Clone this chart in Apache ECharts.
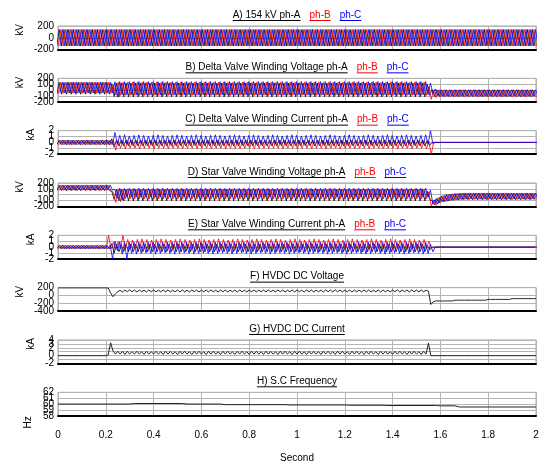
<!DOCTYPE html>
<html><head><meta charset="utf-8">
<script src="https://cdn.jsdelivr.net/npm/echarts/dist/echarts.min.js"></script>
<style>html,body{margin:0;padding:0;background:#fff}#c{width:544px;height:467px}</style>
</head><body><div id="c"></div>
<script>
// ===== DATA =====
// Waveforms A–E: one value per half-cycle peak (alternating positive / negative peak).
// The first value of each array is the peak just before t = 0; after it, each row = 0.2 s.
const HALF_CYCLE = 0.01;                                  // s
const PHASE_OFFSET = [0.005, 0.005 + 0.02/3, 0.005 + 0.04/3]; // ph-A, ph-B, ph-C first peak after t=0 (s)
const SAMPLE_DT = 0.01;                                   // s, for F and G

// A) 154 kV (same amplitude for the three phases)
const a_kv = [-140,
140,-140,140,-140,140,-140,140,-140,140,-140,140,-140,140,-140,140,-140,140,-140,140,-140,
140,-140,140,-140,140,-140,140,-140,140,-140,140,-140,140,-140,140,-140,140,-140,140,-140,
140,-140,140,-140,140,-140,140,-140,140,-140,140,-140,140,-140,140,-140,140,-140,140,-140,
140,-140,140,-140,140,-140,140,-140,140,-140,140,-140,140,-140,140,-140,140,-140,140,-140,
140,-140,140,-140,140,-140,140,-140,140,-140,140,-140,140,-140,140,-140,140,-140,140,-140,
140,-140,140,-140,140,-140,140,-140,140,-140,140,-140,140,-140,140,-140,140,-140,140,-140,
140,-140,140,-140,140,-140,140,-140,140,-140,140,-140,140,-140,140,-140,140,-140,140,-140,
140,-140,140,-140,140,-140,140,-140,140,-140,140,-140,140,-140,140,-140,140,-140,140,-140,
140,-140,140,-140,140,-140,140,-140,140,-140,140,-140,140,-140,140,-140,140,-140,140,-140,
140,-140,140,-140,140,-140,140,-140,140,-140,140,-140,140,-140,140,-140,140,-140,140,-140
];

// B) Delta valve winding voltage (kV)
const b_phA = [-70,
130,-70,130,-70,130,-70,130,-70,130,-70,130,-70,130,-70,130,-70,130,-70,130,-70,
130,-70,110,-110,120,-115,120,-115,120,-115,120,-115,120,-115,120,-115,120,-115,120,-115,
120,-115,120,-115,120,-115,120,-115,120,-115,120,-115,120,-115,120,-115,120,-115,120,-115,
120,-115,120,-115,120,-115,120,-115,120,-115,120,-115,120,-115,120,-115,120,-115,120,-115,
120,-115,120,-115,120,-115,120,-115,120,-115,120,-115,120,-115,120,-115,120,-115,120,-115,
120,-115,120,-115,120,-115,120,-115,120,-115,120,-115,120,-115,120,-115,120,-115,120,-115,
120,-115,120,-115,120,-115,120,-115,120,-115,120,-115,120,-115,120,-115,120,-115,120,-115,
120,-115,120,-115,120,-115,120,-115,120,-115,120,-115,120,-115,100,-90,10,-110,5,-110,
5,-110,5,-110,5,-110,5,-110,5,-110,5,-110,5,-110,5,-110,5,-110,5,-110,
5,-110,5,-110,5,-110,5,-110,5,-110,5,-110,5,-110,5,-110,5,-110,5,-110
];
const b_phB = [-55,
135,-55,135,-55,135,-55,135,-55,135,-55,135,-55,135,-55,135,-55,135,-55,135,-55,
135,-55,90,-80,135,-90,135,-90,135,-90,135,-90,135,-90,135,-90,135,-90,135,-90,
135,-90,135,-90,135,-90,135,-90,135,-90,135,-90,135,-90,135,-90,135,-90,135,-90,
135,-90,135,-90,135,-90,135,-90,135,-90,135,-90,135,-90,135,-90,135,-90,135,-90,
135,-90,135,-90,135,-90,135,-90,135,-90,135,-90,135,-90,135,-90,135,-90,135,-90,
135,-90,135,-90,135,-90,135,-90,135,-90,135,-90,135,-90,135,-90,135,-90,135,-90,
135,-90,135,-90,135,-90,135,-90,135,-90,135,-90,135,-90,135,-90,135,-90,135,-90,
135,-90,135,-90,135,-90,135,-90,135,-90,135,-90,135,-90,60,-160,0,-130,0,-115,
0,-115,0,-115,0,-115,0,-115,0,-115,0,-115,0,-115,0,-115,0,-115,0,-115,
0,-115,0,-115,0,-115,0,-115,0,-115,0,-115,0,-115,0,-115,0,-115,0,-115
];
const b_phC = [-50,
135,-50,135,-50,135,-50,135,-50,135,-50,135,-50,135,-50,135,-50,135,-50,135,-50,
135,-50,140,-120,145,-80,145,-80,145,-80,145,-80,145,-80,145,-80,145,-80,145,-80,
145,-80,145,-80,145,-80,145,-80,145,-80,145,-80,145,-80,145,-80,145,-80,145,-80,
145,-80,145,-80,145,-80,145,-80,145,-80,145,-80,145,-80,145,-80,145,-80,145,-80,
145,-80,145,-80,145,-80,145,-80,145,-80,145,-80,145,-80,145,-80,145,-80,145,-80,
145,-80,145,-80,145,-80,145,-80,145,-80,145,-80,145,-80,145,-80,145,-80,145,-80,
145,-80,145,-80,145,-80,145,-80,145,-80,145,-80,145,-80,145,-80,145,-80,145,-80,
145,-80,145,-80,145,-80,145,-80,145,-80,145,-80,145,-80,120,-60,20,-100,5,-105,
5,-105,5,-105,5,-105,5,-105,5,-105,5,-105,5,-105,5,-105,5,-105,5,-105,
5,-105,5,-105,5,-105,5,-105,5,-105,5,-105,5,-105,5,-105,5,-105,5,-105
];

// C) Delta valve winding current (kA)
const c_phA = [-0.4,
0.4,-0.4,0.4,-0.4,0.4,-0.4,0.4,-0.4,0.4,-0.4,0.4,-0.4,0.4,-0.4,0.4,-0.4,0.4,-0.4,0.4,-0.4,
0.4,-0.4,0.6,-0.8,0.4,-0.6,0.4,-0.6,0.4,-0.6,0.4,-0.6,0.4,-0.6,0.4,-0.6,0.4,-0.6,0.4,-0.6,
0.4,-0.6,0.4,-0.6,0.4,-0.6,0.4,-0.6,0.4,-0.6,0.4,-0.6,0.4,-0.6,0.4,-0.6,0.4,-0.6,0.4,-0.6,
0.4,-0.6,0.4,-0.6,0.4,-0.6,0.4,-0.6,0.4,-0.6,0.4,-0.6,0.4,-0.6,0.4,-0.6,0.4,-0.6,0.4,-0.6,
0.4,-0.6,0.4,-0.6,0.4,-0.6,0.4,-0.6,0.4,-0.6,0.4,-0.6,0.4,-0.6,0.4,-0.6,0.4,-0.6,0.4,-0.6,
0.4,-0.6,0.4,-0.6,0.4,-0.6,0.4,-0.6,0.4,-0.6,0.4,-0.6,0.4,-0.6,0.4,-0.6,0.4,-0.6,0.4,-0.6,
0.4,-0.6,0.4,-0.6,0.4,-0.6,0.4,-0.6,0.4,-0.6,0.4,-0.6,0.4,-0.6,0.4,-0.6,0.4,-0.6,0.4,-0.6,
0.4,-0.6,0.4,-0.6,0.4,-0.6,0.4,-0.6,0.4,-0.6,0.4,-0.6,0.4,-0.6,0.3,-0.5,0,0,0,0,
0,0,0,0,0,0,0,0,0,0,0,0,0,0,0,0,0,0,0,0,
0,0,0,0,0,0,0,0,0,0,0,0,0,0,0,0,0,0,0,0
];
const c_phB = [-0.4,
0.35,-0.4,0.35,-0.4,0.35,-0.4,0.35,-0.4,0.35,-0.4,0.35,-0.4,0.35,-0.4,0.35,-0.4,0.35,-0.4,0.35,-0.4,
0.35,-0.4,0.3,-1.3,0.3,-1.0,0.3,-1.1,0.3,-1.0,0.3,-1.0,0.3,-1.1,0.3,-1.0,0.3,-1.0,0.3,-1.1,
0.3,-1.0,0.3,-1.0,0.3,-1.1,0.3,-1.0,0.3,-1.0,0.3,-1.1,0.3,-1.0,0.3,-1.0,0.3,-1.1,0.3,-1.0,
0.3,-1.0,0.3,-1.1,0.3,-1.0,0.3,-1.0,0.3,-1.1,0.3,-1.0,0.3,-1.0,0.3,-1.1,0.3,-1.0,0.3,-1.0,
0.3,-1.1,0.3,-1.0,0.3,-1.0,0.3,-1.1,0.3,-1.0,0.3,-1.0,0.3,-1.1,0.3,-1.0,0.3,-1.0,0.3,-1.1,
0.3,-1.0,0.3,-1.0,0.3,-1.1,0.3,-1.0,0.3,-1.0,0.3,-1.1,0.3,-1.0,0.3,-1.0,0.3,-1.1,0.3,-1.0,
0.3,-1.0,0.3,-1.1,0.3,-1.0,0.3,-1.0,0.3,-1.1,0.3,-1.0,0.3,-1.0,0.3,-1.1,0.3,-1.0,0.3,-1.0,
0.3,-1.1,0.3,-1.0,0.3,-1.0,0.3,-1.1,0.3,-1.0,0.3,-1.0,0.3,-1.1,0.2,-2.0,0,0,0,0,
0,0,0,0,0,0,0,0,0,0,0,0,0,0,0,0,0,0,0,0,
0,0,0,0,0,0,0,0,0,0,0,0,0,0,0,0,0,0,0,0
];
const c_phC = [-0.35,
0.4,-0.35,0.4,-0.35,0.4,-0.35,0.4,-0.35,0.4,-0.35,0.4,-0.35,0.4,-0.35,0.4,-0.35,0.4,-0.35,0.4,-0.35,
0.4,-0.35,1.7,-0.3,1.2,-0.3,1.3,-0.3,1.1,-0.3,1.2,-0.3,1.3,-0.3,1.2,-0.3,1.1,-0.3,1.2,-0.3,
1.3,-0.3,1.2,-0.3,1.1,-0.3,1.2,-0.3,1.3,-0.3,1.2,-0.3,1.1,-0.3,1.2,-0.3,1.3,-0.3,1.2,-0.3,
1.1,-0.3,1.2,-0.3,1.3,-0.3,1.2,-0.3,1.1,-0.3,1.2,-0.3,1.3,-0.3,1.2,-0.3,1.1,-0.3,1.2,-0.3,
1.3,-0.3,1.2,-0.3,1.1,-0.3,1.2,-0.3,1.3,-0.3,1.2,-0.3,1.1,-0.3,1.2,-0.3,1.3,-0.3,1.2,-0.3,
1.1,-0.3,1.2,-0.3,1.3,-0.3,1.2,-0.3,1.1,-0.3,1.2,-0.3,1.3,-0.3,1.2,-0.3,1.1,-0.3,1.2,-0.3,
1.3,-0.3,1.2,-0.3,1.1,-0.3,1.2,-0.3,1.3,-0.3,1.2,-0.3,1.1,-0.3,1.2,-0.3,1.3,-0.3,1.2,-0.3,
1.1,-0.3,1.2,-0.3,1.3,-0.3,1.2,-0.3,1.1,-0.3,1.2,-0.3,1.3,-0.3,2.0,-0.2,0,0,0,0,
0,0,0,0,0,0,0,0,0,0,0,0,0,0,0,0,0,0,0,0,
0,0,0,0,0,0,0,0,0,0,0,0,0,0,0,0,0,0,0,0
];

// D) Star valve winding voltage (kV)
const d_phA = [70,
160,70,160,70,160,70,160,70,160,70,160,70,160,70,160,70,160,70,160,70,
160,70,60,-80,90,-100,90,-105,90,-105,90,-105,90,-105,90,-105,90,-105,90,-105,
90,-105,90,-105,90,-105,90,-105,90,-105,90,-105,90,-105,90,-105,90,-105,90,-105,
90,-105,90,-105,90,-105,90,-105,90,-105,90,-105,90,-105,90,-105,90,-105,90,-105,
90,-105,90,-105,90,-105,90,-105,90,-105,90,-105,90,-105,90,-105,90,-105,90,-105,
90,-105,90,-105,90,-105,90,-105,90,-105,90,-105,90,-105,90,-105,90,-105,90,-105,
90,-105,90,-105,90,-105,90,-105,90,-105,90,-105,90,-105,90,-105,90,-105,90,-105,
90,-105,90,-105,90,-105,90,-105,90,-105,90,-105,90,-105,60,-80,-100,-170,-60,-140,
-20,-120,0,-105,10,-95,20,-90,25,-85,25,-85,25,-85,25,-85,25,-85,25,-85,
25,-85,25,-85,25,-85,25,-85,25,-85,25,-85,25,-85,25,-85,25,-85,25,-85
];
const d_phB = [75,
165,75,165,75,165,75,165,75,165,75,165,75,165,75,165,75,165,75,165,75,
165,75,40,-130,100,-120,100,-70,100,-70,100,-70,100,-70,100,-70,100,-70,100,-70,
100,-70,100,-70,100,-70,100,-70,100,-70,100,-70,100,-70,100,-70,100,-70,100,-70,
100,-70,100,-70,100,-70,100,-70,100,-70,100,-70,100,-70,100,-70,100,-70,100,-70,
100,-70,100,-70,100,-70,100,-70,100,-70,100,-70,100,-70,100,-70,100,-70,100,-70,
100,-70,100,-70,100,-70,100,-70,100,-70,100,-70,100,-70,100,-70,100,-70,100,-70,
100,-70,100,-70,100,-70,100,-70,100,-70,100,-70,100,-70,100,-70,100,-70,100,-70,
100,-70,100,-70,100,-70,100,-70,100,-70,100,-70,100,-70,50,-200,-90,-180,-50,-130,
-15,-115,5,-100,15,-90,25,-85,30,-80,30,-80,30,-80,30,-80,30,-80,30,-80,
30,-80,30,-80,30,-80,30,-80,30,-80,30,-80,30,-80,30,-80,30,-80,30,-80
];
const d_phC = [80,
165,80,165,80,165,80,165,80,165,80,165,80,165,80,165,80,165,80,165,80,
165,80,90,-60,110,-90,110,-40,110,-40,110,-40,110,-40,110,-40,110,-40,110,-40,
110,-40,110,-40,110,-40,110,-40,110,-40,110,-40,110,-40,110,-40,110,-40,110,-40,
110,-40,110,-40,110,-40,110,-40,110,-40,110,-40,110,-40,110,-40,110,-40,110,-40,
110,-40,110,-40,110,-40,110,-40,110,-40,110,-40,110,-40,110,-40,110,-40,110,-40,
110,-40,110,-40,110,-40,110,-40,110,-40,110,-40,110,-40,110,-40,110,-40,110,-40,
110,-40,110,-40,110,-40,110,-40,110,-40,110,-40,110,-40,110,-40,110,-40,110,-40,
110,-40,110,-40,110,-40,110,-40,110,-40,110,-40,110,-40,80,-150,-80,-160,-40,-120,
-10,-110,10,-95,20,-85,25,-80,30,-75,30,-75,30,-75,30,-75,30,-75,30,-75,
30,-75,30,-75,30,-75,30,-75,30,-75,30,-75,30,-75,30,-75,30,-75,30,-75
];

// E) Star valve winding current (kA)
const e_phA = [-0.3,
0.3,-0.3,0.3,-0.3,0.3,-0.3,0.3,-0.3,0.3,-0.3,0.3,-0.3,0.3,-0.3,0.3,-0.3,0.3,-0.3,0.3,-0.3,
0.3,-0.3,0.6,-1.0,0.5,-0.8,0.4,-0.8,0.5,-0.8,0.5,-0.8,0.5,-0.8,0.5,-0.8,0.5,-0.8,0.5,-0.8,
0.5,-0.8,0.5,-0.8,0.5,-0.8,0.5,-0.8,0.5,-0.8,0.5,-0.8,0.5,-0.8,0.5,-0.8,0.5,-0.8,0.5,-0.8,
0.5,-0.8,0.5,-0.8,0.5,-0.8,0.5,-0.8,0.5,-0.8,0.5,-0.8,0.5,-0.8,0.5,-0.8,0.5,-0.8,0.5,-0.8,
0.5,-0.8,0.5,-0.8,0.5,-0.8,0.5,-0.8,0.5,-0.8,0.5,-0.8,0.5,-0.8,0.5,-0.8,0.5,-0.8,0.5,-0.8,
0.5,-0.8,0.5,-0.8,0.5,-0.8,0.5,-0.8,0.5,-0.8,0.5,-0.8,0.5,-0.8,0.5,-0.8,0.5,-0.8,0.5,-0.8,
0.5,-0.8,0.5,-0.8,0.5,-0.8,0.5,-0.8,0.5,-0.8,0.5,-0.8,0.5,-0.8,0.5,-0.8,0.5,-0.8,0.5,-0.8,
0.5,-0.8,0.5,-0.8,0.5,-0.8,0.5,-0.8,0.5,-0.8,0.5,-0.8,0.5,-0.8,0.3,-0.5,0,0,0,0,
0,0,0,0,0,0,0,0,0,0,0,0,0,0,0,0,0,0,0,0,
0,0,0,0,0,0,0,0,0,0,0,0,0,0,0,0,0,0,0,0
];
const e_phB = [-0.3,
0.3,-0.3,0.3,-0.3,0.3,-0.3,0.3,-0.3,0.3,-0.3,0.3,-0.3,0.3,-0.3,0.3,-0.3,0.3,-0.3,0.3,-0.3,
2.0,-0.3,0.8,-0.4,0.9,-0.3,2.0,-0.3,1.3,-0.3,1.2,-0.3,1.3,-0.3,1.4,-0.3,1.3,-0.3,1.2,-0.3,
1.3,-0.3,1.4,-0.3,1.3,-0.3,1.2,-0.3,1.3,-0.3,1.4,-0.3,1.3,-0.3,1.2,-0.3,1.3,-0.3,1.4,-0.3,
1.3,-0.3,1.2,-0.3,1.3,-0.3,1.4,-0.3,1.3,-0.3,1.2,-0.3,1.3,-0.3,1.4,-0.3,1.3,-0.3,1.2,-0.3,
1.3,-0.3,1.4,-0.3,1.3,-0.3,1.2,-0.3,1.3,-0.3,1.4,-0.3,1.3,-0.3,1.2,-0.3,1.3,-0.3,1.4,-0.3,
1.3,-0.3,1.2,-0.3,1.3,-0.3,1.4,-0.3,1.3,-0.3,1.2,-0.3,1.3,-0.3,1.4,-0.3,1.3,-0.3,1.2,-0.3,
1.3,-0.3,1.4,-0.3,1.3,-0.3,1.2,-0.3,1.3,-0.3,1.4,-0.3,1.3,-0.3,1.2,-0.3,1.3,-0.3,1.4,-0.3,
1.3,-0.3,1.2,-0.3,1.3,-0.3,1.4,-0.3,1.3,-0.3,1.2,-0.3,1.3,-0.3,1.0,-0.2,0,0,0,0,
0,0,0,0,0,0,0,0,0,0,0,0,0,0,0,0,0,0,0,0,
0,0,0,0,0,0,0,0,0,0,0,0,0,0,0,0,0,0,0,0
];
const e_phC = [-0.3,
0.3,-0.3,0.3,-0.3,0.3,-0.3,0.3,-0.3,0.3,-0.3,0.3,-0.3,0.3,-0.3,0.3,-0.3,0.3,-0.3,0.3,-0.3,
0.3,-2.0,1.0,-0.6,0.9,-1.2,0.8,-2.0,0.8,-1.1,0.8,-1.2,0.8,-1.1,0.8,-1.0,0.8,-1.1,0.8,-1.2,
0.8,-1.1,0.8,-1.0,0.8,-1.1,0.8,-1.2,0.8,-1.1,0.8,-1.0,0.8,-1.1,0.8,-1.2,0.8,-1.1,0.8,-1.0,
0.8,-1.1,0.8,-1.2,0.8,-1.1,0.8,-1.0,0.8,-1.1,0.8,-1.2,0.8,-1.1,0.8,-1.0,0.8,-1.1,0.8,-1.2,
0.8,-1.1,0.8,-1.0,0.8,-1.1,0.8,-1.2,0.8,-1.1,0.8,-1.0,0.8,-1.1,0.8,-1.2,0.8,-1.1,0.8,-1.0,
0.8,-1.1,0.8,-1.2,0.8,-1.1,0.8,-1.0,0.8,-1.1,0.8,-1.2,0.8,-1.1,0.8,-1.0,0.8,-1.1,0.8,-1.2,
0.8,-1.1,0.8,-1.0,0.8,-1.1,0.8,-1.2,0.8,-1.1,0.8,-1.0,0.8,-1.1,0.8,-1.2,0.8,-1.1,0.8,-1.0,
0.8,-1.1,0.8,-1.2,0.8,-1.1,0.8,-1.0,0.8,-1.1,0.8,-1.2,0.8,-1.1,0.5,-0.8,0,0,0,0,
0,0,0,0,0,0,0,0,0,0,0,0,0,0,0,0,0,0,0,0,
0,0,0,0,0,0,0,0,0,0,0,0,0,0,0,0,0,0,0,0
];

// F) HVDC DC voltage (kV), one value every 0.01 s from 0 to 2.0 s
const f_kv = [
195,195,195,195,195,195,195,195,195,195,195,195,195,195,195,195,195,195,195,195,
195,195,60,-30,40,100,130,90,140,95,145,95,140,90,140,95,135,90,140,95,
140,95,135,90,140,95,140,90,135,95,140,90,140,95,135,90,140,95,140,90,
135,95,140,90,140,95,135,90,140,95,140,90,135,95,140,90,140,95,135,90,
140,95,140,90,135,95,140,90,140,95,135,90,140,95,140,90,135,95,140,90,
140,95,135,90,140,95,140,90,135,95,140,90,145,95,140,90,145,95,140,90,
135,95,140,90,140,95,135,90,140,95,140,90,135,95,140,90,140,95,135,90,
140,95,145,90,140,95,140,90,145,95,140,90,140,95,135,110,-230,-160,-140,-140,
-140,-140,-140,-140,-140,-140,-120,-120,-120,-120,-120,-120,-120,-120,-120,-120,-120,-120,-120,-120,
-100,-100,-100,-100,-100,-100,-100,-100,-100,-100,-80,-80,-80,-80,-80,-80,-80,-80,-80,-80,
-80
];

// G) HVDC DC current (kA), one value every 0.01 s from 0 to 2.0 s
const g_ka = [
0,0,0,0,0,0,0,0,0,0,0,0,0,0,0,0,0,0,0,0,
0,0.2,3.3,1.2,0.4,1.1,0.4,1.1,0.3,1.1,0.4,1.0,0.4,1.1,0.4,1.0,0.3,1.1,0.4,1.0,
0.4,1.1,0.4,1.0,0.3,1.1,0.4,1.1,0.4,1.0,0.3,1.1,0.4,1.1,0.4,1.0,0.3,1.1,0.4,1.1,
0.4,1.0,0.3,1.1,0.4,1.1,0.4,1.0,0.3,1.1,0.4,1.1,0.4,1.0,0.3,1.1,0.4,1.1,0.4,1.0,
0.3,1.1,0.4,1.1,0.4,1.0,0.3,1.1,0.4,1.1,0.4,1.0,0.3,1.1,0.4,1.1,0.4,1.0,0.3,1.1,
0.4,1.1,0.4,1.0,0.3,1.1,0.4,1.1,0.4,1.0,0.3,1.1,0.4,1.1,0.4,1.0,0.3,1.1,0.4,1.1,
0.4,1.0,0.3,1.1,0.4,1.1,0.4,1.0,0.3,1.1,0.4,1.1,0.4,1.0,0.3,1.1,0.4,1.1,0.4,1.0,
0.3,1.1,0.4,1.1,0.4,1.0,0.3,1.1,0.4,1.1,0.4,1.0,0.3,1.1,0.4,3.2,0,0,0,0,
0,0,0,0,0,0,0,0,0,0,0,0,0,0,0,0,0,0,0,0,
0,0,0,0,0,0,0,0,0,0,0,0,0,0,0,0,0,0,0,0,
0
];

// H) S.C frequency (Hz)
const h_t  = [0, 0.30, 0.32, 0.52, 0.54, 0.68, 0.70, 0.95, 0.97, 1.20, 1.22, 1.36, 1.38, 1.58, 1.60, 1.66, 1.68, 2.0];
const h_hz = [60, 60, 60.1, 60.1, 60, 60, 59.9, 59.9, 59.85, 59.85, 59.8, 59.8, 59.75, 59.75, 59.7, 59.7, 59.5, 59.5];

// Axes: x range and per-panel y range [min, max], grid tick values and tick labels
const xRange = [0, 2, 0.2];
const yRanges = [[-200,200],[-200,200],[-2,2],[-200,200],[-2,2],[-400,200],[-2,4],[58,62]];
const yTicks = [
  [-200,0,200], [-200,-100,0,100,200], [-2,-1,0,1,2], [-200,-100,0,100,200],
  [-2,-1,0,1,2], [-400,-200,0,200], [-2,-1,0,1,2,3,4], [58,59,60,61,62]
];
const yTickLabels = [
  [-200,0,200], [-200,-100,0,100,200], [-2,-1,0,1,2], [-200,-100,0,100,200],
  [-2,-1,0,1,2], [-400,-200,0,200], [-2,0,2,3,4], [58,59,60,61,62]
];
const units = ['kV','kV','kA','kV','kA','kV','kA','Hz'];
const titles = [
  ['A) 154 kV ph-A','ph-B','ph-C'],
  ['B) Delta Valve Winding Voltage ph-A','ph-B','ph-C'],
  ['C) Delta Valve Winding Current ph-A','ph-B','ph-C'],
  ['D) Star Valve Winding Voltage ph-A','ph-B','ph-C'],
  ['E) Star Valve Winding Current ph-A','ph-B','ph-C'],
  ['F) HVDC DC Voltage'],
  ['G) HVDC DC Current'],
  ['H) S.C Frequency']
];
const xName = 'Second';

// ===== BUILD =====
const PHASE_COLORS = ['#000000', '#ff0000', '#0000ff'];
const FONT_FAMILY = '"Liberation Sans", Arial, Helvetica, sans-serif';
const FS = 10;
const GRID_LEFT = 58, GRID_W = 478, GRID_H = 23.5, TOP0 = 26, STEP = 52.33;
const CENTER_X = GRID_LEFT + GRID_W / 2;
const MIN_LABEL_GAP_PX = 11;

// index 0 is the peak one half-cycle before the first peak after t = 0
function zig(vals, off) { return vals.map((v, i) => [off + (i - 1) * HALF_CYCLE, v]); }
function uni(vals) { return vals.map((v, i) => [i * SAMPLE_DT, v]); }

const panelSeries = [
  [zig(a_kv, PHASE_OFFSET[0]), zig(a_kv, PHASE_OFFSET[1]), zig(a_kv, PHASE_OFFSET[2])],
  [zig(b_phA, PHASE_OFFSET[0]), zig(b_phB, PHASE_OFFSET[1]), zig(b_phC, PHASE_OFFSET[2])],
  [zig(c_phA, PHASE_OFFSET[0]), zig(c_phB, PHASE_OFFSET[1]), zig(c_phC, PHASE_OFFSET[2])],
  [zig(d_phA, PHASE_OFFSET[0]), zig(d_phB, PHASE_OFFSET[1]), zig(d_phC, PHASE_OFFSET[2])],
  [zig(e_phA, PHASE_OFFSET[0]), zig(e_phB, PHASE_OFFSET[1]), zig(e_phC, PHASE_OFFSET[2])],
  [uni(f_kv)],
  [uni(g_ka)],
  [h_t.map((t, i) => [t, h_hz[i]])]
];

// split tick labels into groups whose members are far enough apart (each group on its own axis,
// so the library does not drop labels that sit close together, as the reference shows them overlapped)
function splitLabels(labels, min, max) {
  const pxPerUnit = GRID_H / (max - min);
  const sorted = labels.slice().sort((a, b) => b - a);
  const groups = [];
  sorted.forEach(v => {
    let g = groups.find(gr => Math.abs(gr[gr.length - 1] - v) * pxPerUnit >= MIN_LABEL_GAP_PX);
    if (!g) { g = []; groups.push(g); }
    g.push(v);
  });
  return groups;
}

const ctx = document.createElement('canvas').getContext('2d');
ctx.font = FS + 'px ' + FONT_FAMILY;

const grids = [], xAxes = [], yAxes = [], series = [], graphics = [];
const unitX = { kV: 20, kA: 31, Hz: 28 };

panelSeries.forEach((list, i) => {
  const top = TOP0 + i * STEP;
  const last = i === panelSeries.length - 1;
  grids.push({ left: GRID_LEFT, top: top, width: GRID_W, height: GRID_H, show: true,
    borderColor: '#a8a8a8', borderWidth: 1, backgroundColor: '#fff', containLabel: false });
  xAxes.push({ gridIndex: i, type: 'value', min: xRange[0], max: xRange[1], interval: xRange[2],
    axisLine: { show: true, onZero: false, lineStyle: { color: '#000', width: 2 } },
    axisTick: { show: false },
    axisLabel: { show: last, color: '#000', fontSize: FS, fontFamily: FONT_FAMILY, margin: 14,
      showMinLabel: true, showMaxLabel: true, hideOverlap: false },
    splitLine: { show: true, lineStyle: { color: '#b4b4b4', width: 1 } } });
  const [ymin, ymax] = yRanges[i];
  const groups = splitLabels(yTickLabels[i], ymin, ymax);
  const mainY = yAxes.length;
  groups.forEach((g, gi) => {
    yAxes.push({ gridIndex: i, type: 'value', position: 'left', offset: 0, min: ymin, max: ymax,
      axisLine: { show: false },
      axisTick: { show: false, customValues: gi === 0 ? yTicks[i] : g },
      axisLabel: { color: '#000', fontSize: FS, fontFamily: FONT_FAMILY, margin: 4, hideOverlap: false,
        showMinLabel: true, showMaxLabel: true, customValues: g },
      splitLine: { show: gi === 0, lineStyle: { color: '#b4b4b4', width: 1 } } });
  });
  list.forEach((pts, k) => {
    const color = list.length === 1 ? '#222' : PHASE_COLORS[k];
    series.push({ type: 'line', xAxisIndex: i, yAxisIndex: mainY, data: pts, showSymbol: false, symbol: 'none',
      lineStyle: { color: color, width: list.length === 1 ? 1 : 0.8 }, itemStyle: { color: color }, silent: true, animation: false,
      clip: true, sampling: null, z: 2 + k });
  });
  // title (underlined parts)
  const parts = titles[i];
  const gap = 9;
  const widths = parts.map(t => ctx.measureText(t).width);
  const total = widths.reduce((a, b) => a + b, 0) + gap * (parts.length - 1);
  let x = CENTER_X - total / 2;
  parts.forEach((t, k) => {
    const col = PHASE_COLORS[k];
    graphics.push({ type: 'text', x: x, y: top - 11, silent: true,
      style: { text: t, fill: col, font: FS + 'px ' + FONT_FAMILY, textAlign: 'left', textVerticalAlign: 'middle', align: 'left', verticalAlign: 'middle' } });
    graphics.push({ type: 'line', silent: true, shape: { x1: x, y1: top - 5.5, x2: x + widths[k], y2: top - 5.5 },
      style: { stroke: col, lineWidth: 1 } });
    x += widths[k] + gap;
  });
  // unit label (rotated)
  const u = units[i];
  graphics.push({ type: 'text', x: unitX[u], y: u === 'Hz' ? top + 30 : top + 4, rotation: Math.PI / 2, silent: true,
    style: { text: u, fill: '#000', font: FS + 'px ' + FONT_FAMILY, textAlign: 'center', textVerticalAlign: 'middle', align: 'center', verticalAlign: 'middle' } });
});

graphics.push({ type: 'text', x: CENTER_X, y: 458, silent: true,
  style: { text: xName, fill: '#000', font: FS + 'px ' + FONT_FAMILY, textAlign: 'center', textVerticalAlign: 'middle', align: 'center', verticalAlign: 'middle' } });

const chart = echarts.init(document.getElementById('c'), null, { renderer: 'canvas', width: 544, height: 467 });
chart.setOption({
  backgroundColor: '#fff',
  animation: false,
  grid: grids, xAxis: xAxes, yAxis: yAxes, series: series,
  graphic: { elements: graphics }
});
</script></body></html>
